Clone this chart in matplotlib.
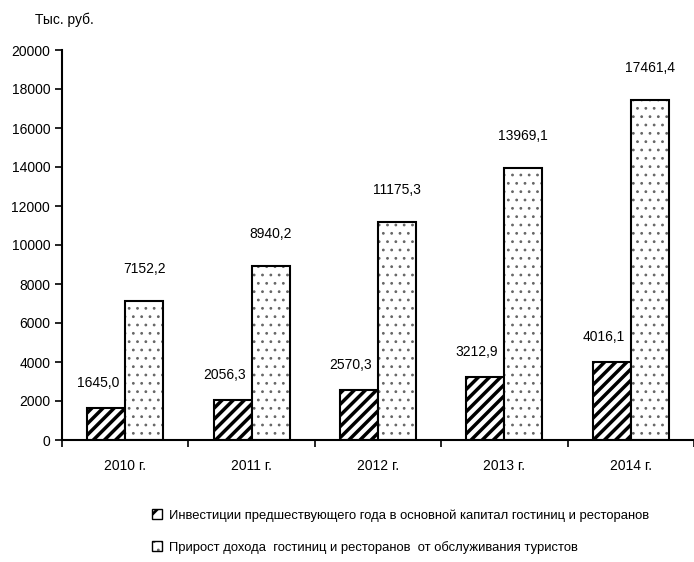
import numpy as np
import matplotlib
matplotlib.use('Agg')
import matplotlib.pyplot as plt
from matplotlib.patches import Patch

plt.rcParams['font.family'] = ['Liberation Sans Narrow', 'Liberation Sans', 'DejaVu Sans']
plt.rcParams['hatch.color'] = 'black'

# Data
years = ['2010 г.', '2011 г.', '2012 г.', '2013 г.', '2014 г.']
invest = [1645.0, 2056.3, 2570.3, 3212.9, 4016.1]
income = [7152.2, 8940.2, 11175.3, 13969.1, 17461.4]
labels = ['Инвестиции предшествующего года в основной капитал гостиниц и ресторанов',
          'Прирост дохода  гостиниц и ресторанов  от обслуживания туристов']

fig = plt.figure(figsize=(6.94, 5.62), dpi=100)
ax = fig.add_axes([62 / 694, 1 - 440 / 562, 632 / 694, 390 / 562])

x = np.arange(len(years))
w = 0.3

b1 = ax.bar(x - w / 2, invest, w, facecolor='white', edgecolor='black', linewidth=1.5, hatch='///')
b2 = ax.bar(x + w / 2, income, w, facecolor='white', edgecolor='black', linewidth=1.5, hatch='..')


def style(patches, lw, color):
    for p in patches:
        p.set_hatch_linewidth(lw)
        p._hatch_color = matplotlib.colors.to_rgba(color)


style(b1, 2.5, 'black')
style(b2, 0.8, '#666666')

for xi, v in zip(x, invest):
    ax.annotate(f'{v:.1f}'.replace('.', ','), (xi - w / 2, v), xytext=(-6, 13),
                textcoords='offset points', ha='center', va='bottom', fontsize=10)
for xi, v in zip(x, income):
    ax.annotate(f'{v:.1f}'.replace('.', ','), (xi + w / 2, v), xytext=(0, 18),
                textcoords='offset points', ha='center', va='bottom', fontsize=10)

ax.set_xlim(-0.5, len(years) - 0.5)
ax.set_ylim(0, 20000)
ax.set_yticks(np.arange(0, 20001, 2000))
ax.set_xticks(x)
ax.set_xticklabels(years, fontsize=10)
ax.set_xticks(np.arange(-0.5, len(years), 1), minor=True)
ax.tick_params(axis='x', which='major', length=0, pad=14)
ax.tick_params(axis='x', which='minor', length=5, width=1.2)
ax.tick_params(axis='y', length=5, width=1.2, labelsize=10)
for s in ['top', 'right']:
    ax.spines[s].set_visible(False)
ax.spines['left'].set_linewidth(1.5)
ax.spines['bottom'].set_linewidth(1.5)

fig.text(35 / 694, 1 - 20 / 562, 'Тыс. руб.', fontsize=10, ha='left', va='center')

h1 = Patch(facecolor='white', edgecolor='black', hatch='//')
h2 = Patch(facecolor='white', edgecolor='black', hatch='..')
leg = fig.legend([h1, h2], labels, loc='lower left', bbox_to_anchor=(140 / 694, -0.006),
                 frameon=False, fontsize=9.4, handlelength=0.8, handleheight=0.8,
                 handletextpad=0.5, labelspacing=1.45)
lp = leg.get_patches()
style([lp[0]], 2.0, 'black')
style([lp[1]], 0.8, '#666666')

fig.savefig('out.png', dpi=100)
